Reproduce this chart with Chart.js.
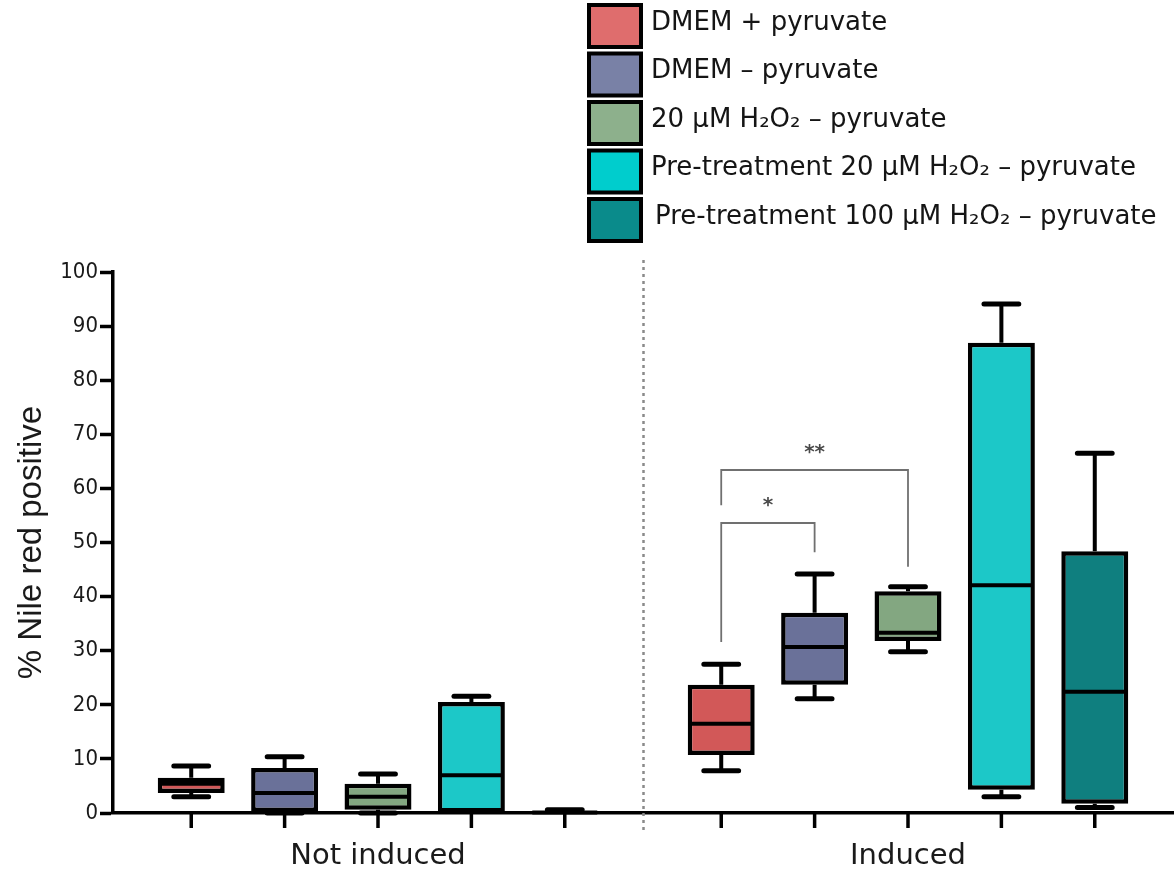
<!DOCTYPE html>
<html>
<head>
<meta charset="utf-8">
<script src="https://cdn.jsdelivr.net/npm/chart.js@4"></script>
<style>
  html, body { margin: 0; padding: 0; background: #fff; }
  #wrap { width: 1174px; height: 874px; }
</style>
</head>
<body>
<div id="wrap"><canvas id="c" width="1174" height="874"></canvas></div>
<script>
// Groups on the x axis and the five treatments shown in each group
const groups = ['Not induced', 'Induced'];
const treatments = [
  'DMEM + pyruvate',
  'DMEM – pyruvate',
  '20 µM H₂O₂ – pyruvate',
  'Pre-treatment 20 µM H₂O₂ – pyruvate',
  'Pre-treatment 100 µM H₂O₂ – pyruvate'
];

// Five-number summaries; each row is one treatment: [not induced, induced]
const whiskerLow  = [[3.0, 7.8], [0.0, 21.1], [0.0, 29.8], [0.0, 3.0], [0.0, 1.0]];
const quart1      = [[3.7, 10.7], [0.2, 23.7], [0.6, 31.8], [0.0, 4.3], [0.0, 1.7]];
const medians     = [[5.4, 16.5], [3.7, 30.7], [3.0, 33.3], [7.0, 42.1], [0.1, 22.4]];
const quart3      = [[6.5, 23.7], [8.3, 37.0], [5.4, 41.0], [20.5, 86.9], [0.3, 48.4]];
const whiskerHigh = [[8.7, 27.5], [10.4, 44.2], [7.2, 41.8], [21.6, 94.1], [0.6, 66.5]];

// Significance brackets inside the induced group (treatment indices)
const sigPairs  = [[0, 1], [0, 2]];
const sigMarks  = ['*', '**'];
const sigBarY   = [53.6, 63.4];
const sigLeftY  = [31.6, 56.9];
const sigRightY = [48.2, 45.5];

// Fill colours of the boxes and of the legend swatches
const boxColors    = ['#d25858', '#6a7199', '#83a781', '#1cc8c8', '#0f7f7f'];
const swatchColors = ['#df6d6d', '#7981a6', '#8db08c', '#00cdcd', '#0a8b8b'];

const FONT = 'DejaVu Sans';
const TICK_FONT = '"DejaVu Sans Condensed", "DejaVu Sans"';

// Whiskers, caps, medians and the small ticks under each box
const boxPlotParts = {
  id: 'boxPlotParts',
  afterDatasetsDraw(chart) {
    const { ctx, scales: { y }, chartArea } = chart;
    ctx.save();
    ctx.strokeStyle = '#000';
    chart.data.datasets.forEach((ds, i) => {
      chart.getDatasetMeta(i).data.forEach((bar, j) => {
        const x = bar.x, half = bar.width / 2, cap = bar.width * 0.26;
        const yq1 = y.getPixelForValue(quart1[i][j]);
        const yq3 = y.getPixelForValue(quart3[i][j]);
        const yLo = y.getPixelForValue(whiskerLow[i][j]);
        const yHi = y.getPixelForValue(whiskerHigh[i][j]);
        const yMd = y.getPixelForValue(medians[i][j]);
        ctx.lineCap = 'butt';
        ctx.lineWidth = 4;
        ctx.beginPath();
        if (whiskerHigh[i][j] > quart3[i][j]) { ctx.moveTo(x, yq3); ctx.lineTo(x, yHi); }
        if (whiskerLow[i][j] < quart1[i][j]) { ctx.moveTo(x, yq1); ctx.lineTo(x, yLo); }
        ctx.stroke();
        ctx.lineCap = 'round';
        ctx.lineWidth = 5;
        ctx.beginPath();
        if (whiskerHigh[i][j] > quart3[i][j]) { ctx.moveTo(x - cap, yHi); ctx.lineTo(x + cap, yHi); }
        if (whiskerLow[i][j] < quart1[i][j]) { ctx.moveTo(x - cap, yLo); ctx.lineTo(x + cap, yLo); }
        ctx.stroke();
        ctx.lineCap = 'butt';
        ctx.lineWidth = 4;
        ctx.beginPath();
        ctx.moveTo(x - half + 1, yMd); ctx.lineTo(x + half - 1, yMd);
        ctx.stroke();
        // tick mark below the x axis
        ctx.lineWidth = 3.5;
        ctx.beginPath();
        ctx.moveTo(x, chartArea.bottom); ctx.lineTo(x, chartArea.bottom + 15);
        ctx.stroke();
      });
    });
    ctx.restore();
  }
};

// Dotted separator between the two groups and the significance brackets
const annotations = {
  id: 'annotations',
  afterDraw(chart) {
    const { ctx, scales: { x, y }, chartArea } = chart;
    ctx.save();
    const sepX = Math.round((x.getPixelForValue(0) + x.getPixelForValue(1)) / 2) + 0.5;
    ctx.strokeStyle = '#8a8a8a';
    ctx.lineWidth = 2.5;
    ctx.setLineDash([3, 4]);
    ctx.beginPath();
    ctx.moveTo(sepX, chartArea.top - 12);
    ctx.lineTo(sepX, chartArea.bottom + 17);
    ctx.stroke();
    ctx.setLineDash([]);

    const g = 1; // brackets sit over the induced group
    ctx.strokeStyle = '#707070';
    ctx.lineWidth = 1.8;
    ctx.fillStyle = '#4a4a4a';
    ctx.font = 'bold 20px "' + FONT + '"';
    ctx.textAlign = 'center';
    ctx.textBaseline = 'middle';
    sigPairs.forEach((pair, k) => {
      const xa = chart.getDatasetMeta(pair[0]).data[g].x;
      const xb = chart.getDatasetMeta(pair[1]).data[g].x;
      const yt = y.getPixelForValue(sigBarY[k]);
      ctx.beginPath();
      ctx.moveTo(xa, y.getPixelForValue(sigLeftY[k]));
      ctx.lineTo(xa, yt);
      ctx.lineTo(xb, yt);
      ctx.lineTo(xb, y.getPixelForValue(sigRightY[k]));
      ctx.stroke();
      ctx.fillText(sigMarks[k], (xa + xb) / 2, yt - 17);
    });
    ctx.restore();
  }
};

// Legend stacked in the upper right corner
const stackedLegend = {
  id: 'stackedLegend',
  afterDraw(chart, args, opts) {
    const { ctx } = chart;
    ctx.save();
    ctx.font = '26px "' + FONT + '"';
    ctx.textAlign = 'left';
    ctx.textBaseline = 'middle';
    chart.data.datasets.forEach((ds, i) => {
      const top = opts.top + i * opts.pitch;
      ctx.fillStyle = swatchColors[i];
      ctx.fillRect(opts.left, top, opts.size[0], opts.size[1]);
      ctx.strokeStyle = '#000';
      ctx.lineWidth = 4;
      ctx.strokeRect(opts.left, top, opts.size[0], opts.size[1]);
      ctx.fillStyle = '#151515';
      ctx.fillText(ds.label, opts.textX + (i === 4 ? 4 : 0), top + 18);
    });
    ctx.restore();
  }
};

const datasets = treatments.map((name, i) => ({
  label: name,
  data: groups.map((g, j) => [quart1[i][j], quart3[i][j]]),
  backgroundColor: boxColors[i],
  borderColor: '#000',
  borderWidth: 4.5,
  borderSkipped: false,
  categoryPercentage: 0.881,
  barPercentage: 0.717
}));

new Chart(document.getElementById('c'), {
  type: 'bar',
  data: { labels: groups, datasets },
  options: {
    responsive: false,
    devicePixelRatio: 1,
    animation: false,
    layout: { padding: { top: 272, right: 1, left: 0, bottom: 0 } },
    plugins: {
      legend: { display: false },
      tooltip: { enabled: false },
      stackedLegend: { left: 589, top: 5, pitch: 48.5, size: [52, 42], textX: 651 }
    },
    scales: {
      x: {
        type: 'category',
        grid: { display: false, drawTicks: false },
        border: { display: true, color: '#000', width: 3.5 },
        ticks: { font: { family: FONT, size: 29 }, color: '#1a1a1a', padding: 26 },
        afterFit(s) { s.height = 61; }
      },
      y: {
        min: 0,
        max: 100,
        ticks: { stepSize: 10, font: { family: TICK_FONT, size: 22 }, color: '#1a1a1a', padding: 2 },
        grid: { display: true, drawOnChartArea: false, drawTicks: true, tickLength: 13, tickWidth: 3.5, tickColor: '#000' },
        border: { display: true, color: '#000', width: 3.5 },
        title: {
          display: true,
          text: '% Nile red positive',
          font: { family: 'Liberation Sans', size: 33 },
          color: '#1a1a1a',
          padding: { top: 12, bottom: 0 }
        },
        afterFit(s) { s.width = 113; }
      }
    }
  },
  plugins: [boxPlotParts, annotations, stackedLegend]
});
</script>
</body>
</html>
